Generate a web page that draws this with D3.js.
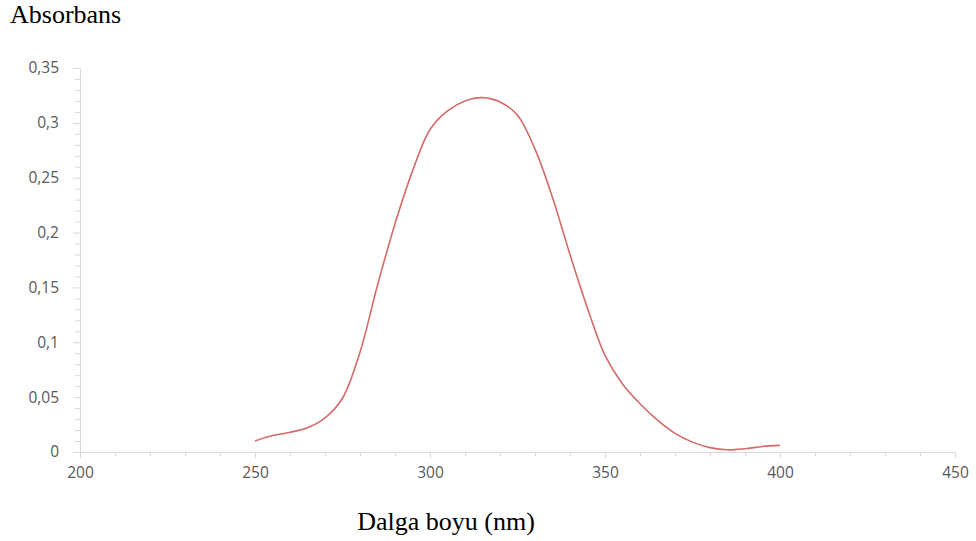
<!DOCTYPE html>
<html><head><meta charset="utf-8">
<script src="https://cdn.jsdelivr.net/npm/d3@7"></script>
<style>body{margin:0;background:#fff;} svg{display:block;}</style>
</head><body>
<svg id="c" width="976" height="541"></svg>
<script>
const wavelength = [250,255,260,265,270,275,280,285,290,295,300,305,310,315,320,325,330,335,340,345,350,355,360,365,370,375,380,385,390,395,400];
const absorbance = [0.010,0.015,0.018,0.022,0.031,0.049,0.091,0.152,0.208,0.256,0.294,0.311,0.320,0.323,0.319,0.307,0.276,0.232,0.180,0.131,0.088,0.062,0.044,0.029,0.017,0.009,0.004,0.002,0.003,0.005,0.006];
const xTicks = [200,250,300,350,400,450];
const yTicks = [0,0.05,0.1,0.15,0.2,0.25,0.3,0.35];
const yTitle = "Absorbans";
const xTitle = "Dalga boyu (nm)";

const svg = d3.select("#c");
const x = d3.scaleLinear().domain([200,450]).range([80,955]);
const y = d3.scaleLinear().domain([0,0.35]).range([452,68]);
const fmt = d => String(d).replace(".", ",");
const axisColor = "#d9d9d9", textColor = "#595959";

// minor ticks
const xMinor = d3.range(200,451,10).filter(v => v % 50 !== 0);
const yMinor = d3.range(0,36,1).map(v=>v/100).filter(v => Math.round(v*100) % 5 !== 0);

const xa = svg.append("g").attr("transform","translate(0,452)")
  .call(d3.axisBottom(x).tickValues(xTicks).tickFormat(fmt).tickSize(6).tickSizeOuter(0).tickPadding(4));
const xm = svg.append("g").attr("transform","translate(0,452)")
  .call(d3.axisBottom(x).tickValues(xMinor).tickFormat("").tickSize(4).tickSizeOuter(0));
const ya = svg.append("g").attr("transform","translate(80,0)")
  .call(d3.axisLeft(y).tickValues(yTicks).tickFormat(fmt).tickSize(7).tickSizeOuter(0).tickPadding(14));
const ym = svg.append("g").attr("transform","translate(80,0)")
  .call(d3.axisLeft(y).tickValues(yMinor).tickFormat("").tickSize(5).tickSizeOuter(0));
[xa,xm,ya,ym].forEach(g => {
  g.selectAll("path,line").attr("stroke", axisColor).attr("stroke-width",1);
  g.selectAll("text").attr("fill", textColor).attr("font-family","'Open Sans', 'Noto Sans', sans-serif").attr("font-size","15.5px");
});
xa.selectAll("text").attr("dy","1em");

const data = wavelength.map((w,i)=>({w, a: absorbance[i]}));
svg.append("path").datum(data)
  .attr("fill","none").attr("stroke","#d46a6a").attr("stroke-width",1.6)
  .attr("d", d3.line().x(d=>x(d.w)).y(d=>y(d.a)).curve(d3.curveCatmullRom.alpha(0.5)));

svg.append("text").attr("x",10).attr("y",23).text(yTitle)
  .attr("font-family","'Liberation Serif','Times New Roman',serif").attr("font-size","26px").attr("fill","#000");
svg.append("text").attr("x",446).attr("y",530).attr("text-anchor","middle").text(xTitle)
  .attr("font-family","'Liberation Serif','Times New Roman',serif").attr("font-size","26px").attr("fill","#000");
</script>
</body></html>
